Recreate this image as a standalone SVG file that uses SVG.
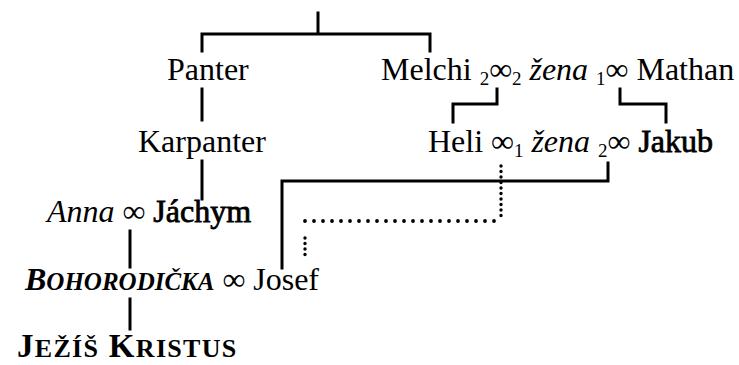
<svg xmlns="http://www.w3.org/2000/svg" width="739" height="365" viewBox="0 0 739 365">
  <style>
    text { font-family: "Liberation Serif", "Times New Roman", serif; font-size: 32px; fill: #000; }
    .it { font-style: italic; }
    .b { font-weight: bold; }
    .heavy { stroke: #000; stroke-width: 0.8; }
    .sub { font-size: 19px; }
    .line { stroke: #000; stroke-width: 3; fill: none; stroke-linecap: square; }
    .dotH { stroke: #000; stroke-width: 3.8; fill: none; stroke-linecap: round; stroke-dasharray: 0 9; }
    .dotV { stroke: #000; stroke-width: 3.4; fill: none; stroke-linecap: round; stroke-dasharray: 0 5.5; }
  </style>
  <rect width="739" height="365" fill="#fff"/>

  <!-- connectors -->
  <g id="connectors">
    <!-- common ancestor split -->
    <path class="line" d="M318 13 V34 M202 51 V34 H430 V51"/>
    <!-- Panter line -->
    <path class="line" d="M202 89 V120"/>
    <path class="line" d="M202 161 V199"/>
    <!-- Melchi's marriage to Heli -->
    <path class="line" d="M497 89 V104 H453 V122"/>
    <!-- Mathan's marriage to Jakub -->
    <path class="line" d="M620 89 V104 H666 V122"/>
    <!-- Jakub's line to Josef -->
    <path class="line" d="M608 163 V181 H282 V268"/>
    <!-- legal (dotted) line from Heli -->
    <path class="dotV" d="M501 166 V218"/>
    <path class="dotH" d="M305 221 H498"/>
    <path class="dotV" d="M305 238 V258"/>
    <!-- Anna & Jáchym to Bohorodička -->
    <path class="line" d="M130 231 V267"/>
    <!-- Bohorodička to Ježíš -->
    <path class="line" d="M130 299 V329"/>
  </g>

  <g id="panter">
    <text x="167" y="80">Panter</text>
  </g>
  <g id="melchi-mathan">
    <text x="381" y="80">Melchi <tspan class="sub" dy="5">2</tspan><tspan dy="-5">∞</tspan><tspan class="sub" dy="5">2</tspan><tspan dy="-5"> </tspan><tspan class="it">žena</tspan> <tspan class="sub" dy="5">1</tspan><tspan dy="-5">∞ Mathan</tspan></text>
  </g>
  <g id="karpanter">
    <text x="138" y="152">Karpanter</text>
  </g>
  <g id="heli-jakub">
    <text x="428" y="152">Heli ∞<tspan class="sub" dy="5">1</tspan><tspan dy="-5"> </tspan><tspan class="it">žena</tspan> <tspan class="sub" dy="5">2</tspan><tspan dy="-5">∞ </tspan><tspan class="heavy">Jakub</tspan></text>
  </g>
  <g id="anna-jachym">
    <text x="47" y="222"><tspan class="it">Anna</tspan> ∞ <tspan class="heavy">Jáchym</tspan></text>
  </g>
  <g id="bohorodicka-josef">
    <text x="25" y="290"><tspan class="b it">B<tspan style="font-size:25px">OHORODIČKA</tspan></tspan> ∞ Josef</text>
  </g>
  <g id="jezis">
    <text x="17" y="357" class="b" style="font-size:33px;letter-spacing:1.3px">J<tspan style="font-size:26px">EŽÍŠ</tspan> K<tspan style="font-size:26px">RISTUS</tspan></text>
  </g>
</svg>
